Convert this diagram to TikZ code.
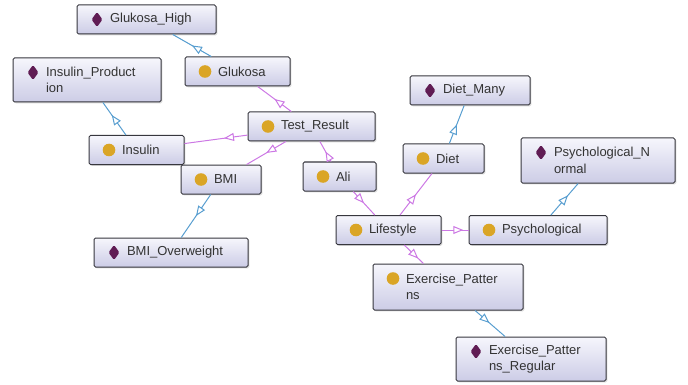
\documentclass[tikz,border=0pt]{standalone}
\usepackage{fontspec}
\newfontfamily\ogfont{Liberation Sans}
\usetikzlibrary{arrows.meta,shadows,decorations.markings}
\definecolor{boxtop}{RGB}{246,246,252}
\definecolor{boxbot}{RGB}{204,204,230}
\definecolor{boxline}{RGB}{55,55,62}
\definecolor{clsdot}{RGB}{218,165,38}
\definecolor{inddia}{RGB}{96,28,84}
\definecolor{relpink}{RGB}{204,120,228}
\definecolor{typeblue}{RGB}{88,158,208}
\tikzset{
  ogbox/.style={draw=boxline, line width=1pt, rounded corners=1.5pt, top color=boxtop, bottom color=boxbot,
    drop shadow={shadow xshift=1.3pt, shadow yshift=-1.3pt, opacity=0.3},
    font={\ogfont\fontsize{13}{16.5}\selectfont\hyphenpenalty=10000}, text=black!80, align=left,
    inner xsep=33pt, inner ysep=0pt, minimum height=29pt, text width=#1},
  clsnode/.style={ogbox=#1, path picture={\fill[clsdot] ([xshift=20pt,yshift=-14.5pt]path picture bounding box.north west) circle (6.3pt);}},
  indnode/.style={ogbox=#1, path picture={\fill[inddia] ([xshift=20pt,yshift=-7pt]path picture bounding box.north west)
    -- ++(5.5pt,-7.5pt) -- ++(-5.5pt,-7.5pt) -- ++(-5.5pt,7.5pt) -- cycle;}},
  midtip/.style={postaction={decorate}, decoration={markings,
    mark=at position 0.5 with {\arrow[#1, line width=1pt]{Triangle[open, length=10pt, width=8pt, fill=white]}}}},
  reledge/.style={draw=relpink, line width=1pt},
  typeedge/.style={draw=typeblue, line width=1pt}
}
\begin{document}
\begin{tikzpicture}[x=1pt, y=-1pt]
\useasboundingbox (0,0) rectangle (688,385);
\node[indnode=73pt] (ghigh) at (146.5,19.5) {Glukosa\_High};
\node[clsnode=39pt] (glukosa) at (237.5,71.5) {Glukosa};
\node[indnode=82pt, minimum height=44pt] (insprod) at (87,80) {Insulin\_Product\\ion};
\node[clsnode=61pt] (testres) at (311.5,126.5) {Test\_Result};
\node[clsnode=29pt] (insulin) at (136.5,150) {Insulin};
\node[clsnode=14pt] (bmi) at (221,179.5) {BMI};
\node[clsnode=7pt] (ali) at (339.5,176.5) {Ali};
\node[indnode=54pt] (dietmany) at (470,90.5) {Diet\_Many};
\node[clsnode=15pt] (diet) at (443.5,158.5) {Diet};
\node[indnode=88pt, minimum height=45pt] (psynorm) at (598,160.5) {Psychological\_N\\ormal};
\node[clsnode=39pt] (lifestyle) at (388.5,230) {Lifestyle};
\node[clsnode=72pt] (psych) at (538,230) {Psychological};
\node[indnode=88pt] (bmiover) at (171,252.5) {BMI\_Overweight};
\node[clsnode=84pt, minimum height=46pt] (exer) at (448,287) {Exercise\_Patter\\ns};
\node[indnode=84pt, minimum height=44pt] (exreg) at (531,359) {Exercise\_Patter\\ns\_Regular};

\foreach \src/\dst in {glukosa/ghigh, insulin/insprod, bmi/bmiover, diet/dietmany, psych/psynorm, exer/exreg} {
  \draw[typeedge] (\src) -- (\dst);
  \path[midtip=typeblue] (\src.center) -- (\dst.center);
}
\foreach \src/\dst in {testres/glukosa, testres/insulin, testres/bmi, ali/testres, ali/lifestyle, lifestyle/diet, lifestyle/psych, lifestyle/exer} {
  \draw[reledge] (\src) -- (\dst);
  \path[midtip=relpink] (\src.center) -- (\dst.center);
}
\end{tikzpicture}
\end{document}
